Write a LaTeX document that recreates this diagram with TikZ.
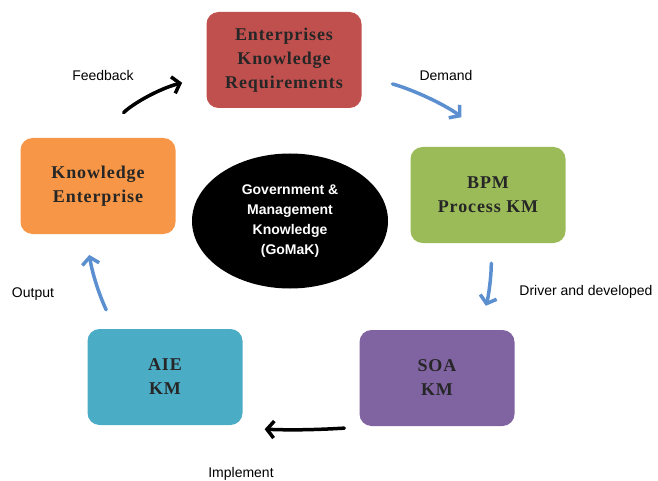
\documentclass[tikz,border=0pt]{standalone}
\usepackage{fontspec}
\setmainfont{Liberation Serif}
\setsansfont{Liberation Sans}
\newfontfamily\boxfont{Liberation Serif}[LetterSpace=5]
\usetikzlibrary{positioning}
\usetikzlibrary{arrows.meta,shapes.geometric}
\usepackage{xcolor}
\definecolor{kmred}{HTML}{C0504D}
\definecolor{kmgreen}{HTML}{9BBB59}
\definecolor{kmpurple}{HTML}{8064A2}
\definecolor{kmcyan}{HTML}{4BACC6}
\definecolor{kmorange}{HTML}{F79646}
\definecolor{kmblue}{HTML}{5B8FCF}

\begin{document}
\begin{tikzpicture}[x=1pt, y=1pt,
  every node/.style = {align=center},
  kmbox/.style = {shape=rectangle, rounded corners=12pt,
    minimum width=155pt, minimum height=96pt, text=black!85,
    font=\boxfont\bfseries\fontsize{18}{24}\selectfont},
  core/.style = {ellipse, fill=black, minimum width=196pt, minimum height=135pt,
    inner sep=0pt, text=white, font=\sffamily\bfseries\fontsize{14}{20}\selectfont},
  lbl/.style = {font=\sffamily\fontsize{14}{17}\selectfont},
  flow/.style = {draw=kmblue, line width=3.5pt, line cap=round,
    -{Straight Barb[length=7pt,width=17pt]}},
  back/.style = {flow, draw=black}
  ]
  \useasboundingbox (0,0) rectangle (658,-481);
  % boxes round the core
  \node[kmbox, fill=kmred] (ekr) at (284,-60) {Enterprises\\Knowledge\\Requirements};
  \node[kmbox, fill=kmgreen] (bpm) at (488,-195) {BPM\\Process KM};
  \node[kmbox, fill=kmpurple] (soa) at (437,-378) {SOA\\KM};
  \node[kmbox, fill=kmcyan] (aie) at (165,-377) {AIE\\KM};
  \node[kmbox, fill=kmorange] (ke) at (98,-186) {Knowledge\\Enterprise};
  \node[core] (gomak) at (290,-221) {Government \&\\Management\\Knowledge\\(GoMaK)};

  % arrows
  \draw[back, shorten <=36pt, shorten >=25pt] (ke.north) to[bend left=15] (ekr.192);
  \draw[flow, shorten <=32pt, shorten >=46pt] (ekr.-11) to[bend left=12] (bpm.80);
  \draw[flow, shorten <=20pt, shorten >=25pt] (bpm.-86) to[bend left=8] (soa.49);
  \draw[back, shorten <=15pt, shorten >=22pt] ([yshift=-1pt]soa.south west) to[bend left=3] ([yshift=-3pt]aie.south east);
  \draw[flow, shorten <=21pt, shorten >=21pt] (aie.136) to[bend left=8] (ke.-104);

  % labels
  \node[lbl] (fb) at (103,-75) {Feedback};
  \node[lbl] (dm) at (446,-75) {Demand};
  \node[lbl] (dd) at (586,-292) {Driver and developed};
  \node[lbl] (im) at (241,-474) {Implement};
  \node[lbl] (op) at (33,-294) {Output};
\end{tikzpicture}
\end{document}
